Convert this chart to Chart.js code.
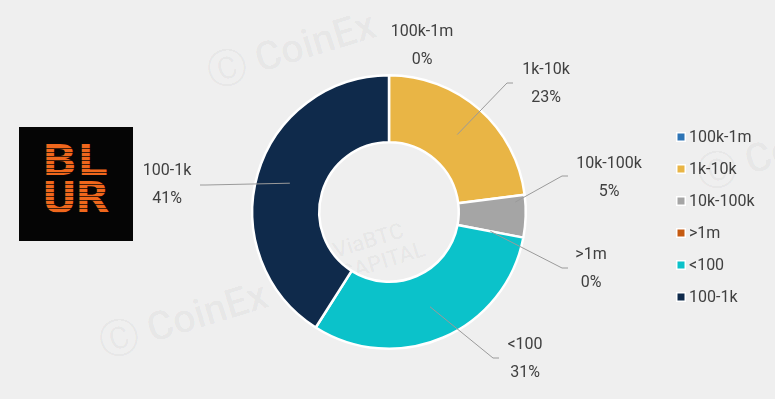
<!DOCTYPE html>
<html>
<head>
<meta charset="utf-8">
<script src="https://cdn.jsdelivr.net/npm/chart.js@4.4.1/dist/chart.umd.min.js"></script>
<style>
  html, body { margin: 0; padding: 0; background: #efefef; }
  #wrap { position: relative; width: 775px; height: 399px; overflow: hidden; font-family: Roboto, "Noto Sans", sans-serif; }
  #chart { position: absolute; left: 0; top: 0; }
  .wm { position: absolute; color: rgba(0,0,0,0.045); font-weight: 500; transform: rotate(-17deg); transform-origin: left top; white-space: nowrap; }
  #logo { position: absolute; left: 19px; top: 127px; width: 114px; height: 114px; background: #050505; }
  #logo span { position: absolute; left: 24px; top: 15px; font: bold 42px/37px "DejaVu Sans Mono", monospace; color: #f0671c; transform: scaleX(1.3); transform-origin: left top; }
  #logo i { position: absolute; left: 20px; top: 18px; width: 76px; height: 76px; background: repeating-linear-gradient(to bottom, rgba(5,5,5,0) 0 3px, rgba(5,5,5,0.75) 3px 4px); }
</style>
</head>
<body>
<div id="wrap">
  <div class="wm" style="left:200px; top:48px; font-size:40px;">&#x24B8; CoinEx</div>
  <div class="wm" style="left:92px; top:318px; font-size:40px;">&#x24B8; CoinEx</div>
  <div class="wm" style="left:690px; top:150px; font-size:40px;">&#x24B8; CoinEx</div>
  <div class="wm" style="left:330px; top:240px; font-size:22px; line-height:24px;">ViaBTC<br>CAPITAL</div>
  <div id="logo"><span>BL<br>UR</span><i></i></div>
  <canvas id="chart" width="775" height="399"></canvas>
</div>
<script>
// data
const categories = ['100k-1m', '1k-10k', '10k-100k', '>1m', '<100', '100-1k'];
const shares = [0, 23, 5, 0, 31, 41];
const colors = ['#2e75b6', '#e9b545', '#a5a5a5', '#c55a11', '#0bc2ca', '#0f2a4b'];

// where each data label sits relative to the doughnut centre (text block middle),
// elbow of the leader line (null = no leader), and where on the slice the leader starts
const labelSpots = [
  { dx: 33, dy: -166, elbow: null },
  { dx: 157, dy: -128, elbow: [118, -129], t: 0.5, rad: 0.5 },
  { dx: 220, dy: -34, elbow: [173, -36], t: 0.15, rad: 0.85 },
  { dx: 202, dy: 57, elbow: [173, 56], t: 0.5, rad: 0.5 },
  { dx: 136, dy: 147, elbow: [104, 146], t: 0.5, rad: 0.5 },
  { dx: -222, dy: -27, elbow: [-183, -27], t: 0.5, rad: 0.5 }
];

const textColor = '#404040';
const font = '16px Roboto, "Noto Sans", sans-serif';

const labelPlugin = {
  id: 'outLabels',
  afterDatasetsDraw(chart) {
    const ctx = chart.ctx;
    const arcs = chart.getDatasetMeta(0).data;
    ctx.save();
    ctx.font = font;
    ctx.textAlign = 'center';
    ctx.textBaseline = 'middle';
    arcs.forEach((arc, i) => {
      const p = arc.getProps(['x', 'y', 'startAngle', 'endAngle', 'innerRadius', 'outerRadius'], true);
      const spot = labelSpots[i];
      const cx = p.x, cy = p.y;
      const tx = cx + spot.dx, ty = cy + spot.dy;
      const pct = shares[i] + '%';
      if (spot.elbow) {
        const a = p.startAngle + (p.endAngle - p.startAngle) * spot.t;
        const r = p.innerRadius + (p.outerRadius - p.innerRadius) * spot.rad;
        const sx = cx + r * Math.cos(a), sy = cy + r * Math.sin(a);
        const ex = cx + spot.elbow[0], ey = cy + spot.elbow[1];
        const stub = spot.dx > 0 ? 6 : -6;
        ctx.strokeStyle = '#9a9a9a';
        ctx.lineWidth = 1;
        ctx.beginPath();
        ctx.moveTo(sx, sy);
        ctx.lineTo(ex, ey);
        ctx.lineTo(ex + stub, ey);
        ctx.stroke();
      }
      ctx.fillStyle = textColor;
      ctx.fillText(categories[i], tx, ty - 14);
      ctx.fillText(pct, tx, ty + 14);
    });

    // legend on the right
    const lx = 681, ly = 137, step = 32;
    ctx.textAlign = 'left';
    categories.forEach((c, i) => {
      const y = ly + i * step;
      ctx.fillStyle = '#ffffff';
      ctx.fillRect(lx - 5, y - 5, 10, 10);
      ctx.fillStyle = colors[i];
      ctx.fillRect(lx - 3.5, y - 3.5, 7, 7);
      ctx.fillStyle = textColor;
      ctx.fillText(c, lx + 8, y + 1);
    });
    ctx.restore();
  }
};

new Chart(document.getElementById('chart'), {
  type: 'doughnut',
  data: {
    labels: categories,
    datasets: [{
      data: shares,
      backgroundColor: colors,
      borderColor: '#ffffff',
      borderWidth: 2.5
    }]
  },
  options: {
    responsive: false,
    animation: false,
    cutout: '51%',
    layout: { padding: { left: 251, right: 248, top: 74, bottom: 49 } },
    plugins: {
      legend: { display: false },
      tooltip: { enabled: false }
    }
  },
  plugins: [labelPlugin]
});
</script>
</body>
</html>
